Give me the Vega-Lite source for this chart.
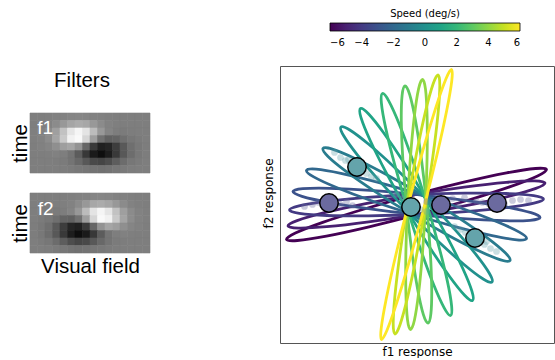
{
"$schema": "https://vega.github.io/schema/vega-lite/v6.json",
"autosize": {"type": "pad"},
"padding": {"left": 10, "top": 8, "right": 0, "bottom": 0},
"config": {"font": "DejaVu Sans", "view": {"stroke": null}},
"datasets": {
"fl1": [
{"c":0,"r":0,"v":0},{"c":1,"r":0,"v":0},{"c":2,"r":0,"v":0.01},{"c":3,"r":0,"v":0.02},{"c":4,"r":0,"v":0.03},{"c":5,"r":0,"v":0.05},{"c":6,"r":0,"v":0.06},{"c":7,"r":0,"v":0.05},{"c":8,"r":0,"v":0.03},{"c":9,"r":0,"v":0.02},{"c":10,"r":0,"v":0.01},{"c":11,"r":0,"v":0},{"c":12,"r":0,"v":0},{"c":13,"r":0,"v":0},{"c":14,"r":0,"v":0},{"c":15,"r":0,"v":0},
{"c":0,"r":1,"v":0},{"c":1,"r":1,"v":0.01},{"c":2,"r":1,"v":0.03},{"c":3,"r":1,"v":0.09},{"c":4,"r":1,"v":0.18},{"c":5,"r":1,"v":0.27},{"c":6,"r":1,"v":0.31},{"c":7,"r":1,"v":0.28},{"c":8,"r":1,"v":0.18},{"c":9,"r":1,"v":0.09},{"c":10,"r":1,"v":0.03},{"c":11,"r":1,"v":0.01},{"c":12,"r":1,"v":0},{"c":13,"r":1,"v":0},{"c":14,"r":1,"v":0},{"c":15,"r":1,"v":0},
{"c":0,"r":2,"v":0.01},{"c":1,"r":2,"v":0.03},{"c":2,"r":2,"v":0.09},{"c":3,"r":2,"v":0.23},{"c":4,"r":2,"v":0.46},{"c":5,"r":2,"v":0.69},{"c":6,"r":2,"v":0.79},{"c":7,"r":2,"v":0.68},{"c":8,"r":2,"v":0.42},{"c":9,"r":2,"v":0.18},{"c":10,"r":2,"v":0.04},{"c":11,"r":2,"v":-0.01},{"c":12,"r":2,"v":-0.02},{"c":13,"r":2,"v":-0.01},{"c":14,"r":2,"v":0},{"c":15,"r":2,"v":0},
{"c":0,"r":3,"v":0.01},{"c":1,"r":3,"v":0.03},{"c":2,"r":3,"v":0.1},{"c":3,"r":3,"v":0.26},{"c":4,"r":3,"v":0.51},{"c":5,"r":3,"v":0.76},{"c":6,"r":3,"v":0.81},{"c":7,"r":3,"v":0.59},{"c":8,"r":3,"v":0.22},{"c":9,"r":3,"v":-0.09},{"c":10,"r":3,"v":-0.21},{"c":11,"r":3,"v":-0.19},{"c":12,"r":3,"v":-0.11},{"c":13,"r":3,"v":-0.05},{"c":14,"r":3,"v":-0.02},{"c":15,"r":3,"v":0},
{"c":0,"r":4,"v":0},{"c":1,"r":4,"v":0.02},{"c":2,"r":4,"v":0.05},{"c":3,"r":4,"v":0.12},{"c":4,"r":4,"v":0.22},{"c":5,"r":4,"v":0.27},{"c":6,"r":4,"v":0.15},{"c":7,"r":4,"v":-0.17},{"c":8,"r":4,"v":-0.52},{"c":9,"r":4,"v":-0.73},{"c":10,"r":4,"v":-0.69},{"c":11,"r":4,"v":-0.49},{"c":12,"r":4,"v":-0.27},{"c":13,"r":4,"v":-0.11},{"c":14,"r":4,"v":-0.04},{"c":15,"r":4,"v":-0.01},
{"c":0,"r":5,"v":0},{"c":1,"r":5,"v":0},{"c":2,"r":5,"v":0.01},{"c":3,"r":5,"v":0.02},{"c":4,"r":5,"v":0},{"c":5,"r":5,"v":-0.07},{"c":6,"r":5,"v":-0.25},{"c":7,"r":5,"v":-0.53},{"c":8,"r":5,"v":-0.78},{"c":9,"r":5,"v":-0.88},{"c":10,"r":5,"v":-0.76},{"c":11,"r":5,"v":-0.52},{"c":12,"r":5,"v":-0.28},{"c":13,"r":5,"v":-0.12},{"c":14,"r":5,"v":-0.04},{"c":15,"r":5,"v":-0.01},
{"c":0,"r":6,"v":0},{"c":1,"r":6,"v":0},{"c":2,"r":6,"v":0},{"c":3,"r":6,"v":-0.01},{"c":4,"r":6,"v":-0.02},{"c":5,"r":6,"v":-0.07},{"c":6,"r":6,"v":-0.16},{"c":7,"r":6,"v":-0.28},{"c":8,"r":6,"v":-0.39},{"c":9,"r":6,"v":-0.42},{"c":10,"r":6,"v":-0.36},{"c":11,"r":6,"v":-0.24},{"c":12,"r":6,"v":-0.13},{"c":13,"r":6,"v":-0.05},{"c":14,"r":6,"v":-0.02},{"c":15,"r":6,"v":0},
{"c":0,"r":7,"v":0},{"c":1,"r":7,"v":0},{"c":2,"r":7,"v":0},{"c":3,"r":7,"v":0},{"c":4,"r":7,"v":-0.01},{"c":5,"r":7,"v":-0.02},{"c":6,"r":7,"v":-0.04},{"c":7,"r":7,"v":-0.06},{"c":8,"r":7,"v":-0.08},{"c":9,"r":7,"v":-0.09},{"c":10,"r":7,"v":-0.08},{"c":11,"r":7,"v":-0.05},{"c":12,"r":7,"v":-0.03},{"c":13,"r":7,"v":-0.01},{"c":14,"r":7,"v":0},{"c":15,"r":7,"v":0}
],
"fl2": [
{"c":0,"r":0,"v":0},{"c":1,"r":0,"v":0},{"c":2,"r":0,"v":0},{"c":3,"r":0,"v":0},{"c":4,"r":0,"v":0},{"c":5,"r":0,"v":0.01},{"c":6,"r":0,"v":0.02},{"c":7,"r":0,"v":0.03},{"c":8,"r":0,"v":0.05},{"c":9,"r":0,"v":0.06},{"c":10,"r":0,"v":0.05},{"c":11,"r":0,"v":0.03},{"c":12,"r":0,"v":0.02},{"c":13,"r":0,"v":0.01},{"c":14,"r":0,"v":0},{"c":15,"r":0,"v":0},
{"c":0,"r":1,"v":0},{"c":1,"r":1,"v":0},{"c":2,"r":1,"v":0},{"c":3,"r":1,"v":0},{"c":4,"r":1,"v":0.01},{"c":5,"r":1,"v":0.03},{"c":6,"r":1,"v":0.09},{"c":7,"r":1,"v":0.18},{"c":8,"r":1,"v":0.28},{"c":9,"r":1,"v":0.31},{"c":10,"r":1,"v":0.27},{"c":11,"r":1,"v":0.18},{"c":12,"r":1,"v":0.09},{"c":13,"r":1,"v":0.03},{"c":14,"r":1,"v":0.01},{"c":15,"r":1,"v":0},
{"c":0,"r":2,"v":0},{"c":1,"r":2,"v":0},{"c":2,"r":2,"v":-0.01},{"c":3,"r":2,"v":-0.02},{"c":4,"r":2,"v":-0.01},{"c":5,"r":2,"v":0.04},{"c":6,"r":2,"v":0.18},{"c":7,"r":2,"v":0.42},{"c":8,"r":2,"v":0.68},{"c":9,"r":2,"v":0.79},{"c":10,"r":2,"v":0.69},{"c":11,"r":2,"v":0.46},{"c":12,"r":2,"v":0.23},{"c":13,"r":2,"v":0.09},{"c":14,"r":2,"v":0.03},{"c":15,"r":2,"v":0.01},
{"c":0,"r":3,"v":0},{"c":1,"r":3,"v":-0.02},{"c":2,"r":3,"v":-0.05},{"c":3,"r":3,"v":-0.11},{"c":4,"r":3,"v":-0.19},{"c":5,"r":3,"v":-0.21},{"c":6,"r":3,"v":-0.09},{"c":7,"r":3,"v":0.22},{"c":8,"r":3,"v":0.59},{"c":9,"r":3,"v":0.81},{"c":10,"r":3,"v":0.76},{"c":11,"r":3,"v":0.51},{"c":12,"r":3,"v":0.26},{"c":13,"r":3,"v":0.1},{"c":14,"r":3,"v":0.03},{"c":15,"r":3,"v":0.01},
{"c":0,"r":4,"v":-0.01},{"c":1,"r":4,"v":-0.04},{"c":2,"r":4,"v":-0.11},{"c":3,"r":4,"v":-0.27},{"c":4,"r":4,"v":-0.49},{"c":5,"r":4,"v":-0.69},{"c":6,"r":4,"v":-0.73},{"c":7,"r":4,"v":-0.52},{"c":8,"r":4,"v":-0.17},{"c":9,"r":4,"v":0.15},{"c":10,"r":4,"v":0.27},{"c":11,"r":4,"v":0.22},{"c":12,"r":4,"v":0.12},{"c":13,"r":4,"v":0.05},{"c":14,"r":4,"v":0.02},{"c":15,"r":4,"v":0},
{"c":0,"r":5,"v":-0.01},{"c":1,"r":5,"v":-0.04},{"c":2,"r":5,"v":-0.12},{"c":3,"r":5,"v":-0.28},{"c":4,"r":5,"v":-0.52},{"c":5,"r":5,"v":-0.76},{"c":6,"r":5,"v":-0.88},{"c":7,"r":5,"v":-0.78},{"c":8,"r":5,"v":-0.53},{"c":9,"r":5,"v":-0.25},{"c":10,"r":5,"v":-0.07},{"c":11,"r":5,"v":0},{"c":12,"r":5,"v":0.02},{"c":13,"r":5,"v":0.01},{"c":14,"r":5,"v":0},{"c":15,"r":5,"v":0},
{"c":0,"r":6,"v":0},{"c":1,"r":6,"v":-0.02},{"c":2,"r":6,"v":-0.05},{"c":3,"r":6,"v":-0.13},{"c":4,"r":6,"v":-0.24},{"c":5,"r":6,"v":-0.36},{"c":6,"r":6,"v":-0.42},{"c":7,"r":6,"v":-0.39},{"c":8,"r":6,"v":-0.28},{"c":9,"r":6,"v":-0.16},{"c":10,"r":6,"v":-0.07},{"c":11,"r":6,"v":-0.02},{"c":12,"r":6,"v":-0.01},{"c":13,"r":6,"v":0},{"c":14,"r":6,"v":0},{"c":15,"r":6,"v":0},
{"c":0,"r":7,"v":0},{"c":1,"r":7,"v":0},{"c":2,"r":7,"v":-0.01},{"c":3,"r":7,"v":-0.03},{"c":4,"r":7,"v":-0.05},{"c":5,"r":7,"v":-0.08},{"c":6,"r":7,"v":-0.09},{"c":7,"r":7,"v":-0.08},{"c":8,"r":7,"v":-0.06},{"c":9,"r":7,"v":-0.04},{"c":10,"r":7,"v":-0.02},{"c":11,"r":7,"v":-0.01},{"c":12,"r":7,"v":0},{"c":13,"r":7,"v":0},{"c":14,"r":7,"v":0},{"c":15,"r":7,"v":0}
],
"ell": [
{"s":-6,"k":0,"x":130,"y":35},{"s":-6,"k":1,"x":119.1,"y":36},{"s":-6,"k":2,"x":90.1,"y":31.6},{"s":-6,"k":3,"x":47.4,"y":22.3},{"s":-6,"k":4,"x":-2.6,"y":9.7},{"s":-6,"k":5,"x":-52.2,"y":-4.5},{"s":-6,"k":6,"x":-93.8,"y":-17.9},{"s":-6,"k":7,"x":-121.1,"y":-28.6},{"s":-6,"k":8,"x":-130,"y":-35},{"s":-6,"k":9,"x":-119.1,"y":-36},{"s":-6,"k":10,"x":-90.1,"y":-31.6},{"s":-6,"k":11,"x":-47.4,"y":-22.3},{"s":-6,"k":12,"x":2.6,"y":-9.7},{"s":-6,"k":13,"x":52.2,"y":4.5},{"s":-6,"k":14,"x":93.8,"y":17.9},{"s":-6,"k":15,"x":121.1,"y":28.6},
{"s":-5,"k":0,"x":128.5,"y":21.5},{"s":-5,"k":1,"x":118.1,"y":23.6},{"s":-5,"k":2,"x":89.7,"y":22.2},{"s":-5,"k":3,"x":47.7,"y":17.3},{"s":-5,"k":4,"x":-1.7,"y":9.9},{"s":-5,"k":5,"x":-50.7,"y":0.9},{"s":-5,"k":6,"x":-92,"y":-8.2},{"s":-5,"k":7,"x":-119.4,"y":-16.1},{"s":-5,"k":8,"x":-128.5,"y":-21.5},{"s":-5,"k":9,"x":-118.1,"y":-23.6},{"s":-5,"k":10,"x":-89.7,"y":-22.2},{"s":-5,"k":11,"x":-47.7,"y":-17.3},{"s":-5,"k":12,"x":1.7,"y":-9.9},{"s":-5,"k":13,"x":50.7,"y":-0.9},{"s":-5,"k":14,"x":92,"y":8.2},{"s":-5,"k":15,"x":119.4,"y":16.1},
{"s":-4,"k":0,"x":127,"y":5.5},{"s":-4,"k":1,"x":117.2,"y":8.9},{"s":-4,"k":2,"x":89.5,"y":11},{"s":-4,"k":3,"x":48.2,"y":11.3},{"s":-4,"k":4,"x":-0.4,"y":10},{"s":-4,"k":5,"x":-49,"y":7.1},{"s":-4,"k":6,"x":-90.1,"y":3.2},{"s":-4,"k":7,"x":-117.5,"y":-1.3},{"s":-4,"k":8,"x":-127,"y":-5.5},{"s":-4,"k":9,"x":-117.2,"y":-8.9},{"s":-4,"k":10,"x":-89.5,"y":-11},{"s":-4,"k":11,"x":-48.2,"y":-11.3},{"s":-4,"k":12,"x":0.4,"y":-10},{"s":-4,"k":13,"x":49,"y":-7.1},{"s":-4,"k":14,"x":90.1,"y":-3.2},{"s":-4,"k":15,"x":117.5,"y":1.3},
{"s":-3,"k":0,"x":123.5,"y":-13},{"s":-3,"k":1,"x":114.5,"y":-8.2},{"s":-3,"k":2,"x":88.1,"y":-2.2},{"s":-3,"k":3,"x":48.2,"y":4.2},{"s":-3,"k":4,"x":1,"y":9.9},{"s":-3,"k":5,"x":-46.3,"y":14.2},{"s":-3,"k":6,"x":-86.6,"y":16.2},{"s":-3,"k":7,"x":-113.7,"y":15.8},{"s":-3,"k":8,"x":-123.5,"y":13},{"s":-3,"k":9,"x":-114.5,"y":8.2},{"s":-3,"k":10,"x":-88.1,"y":2.2},{"s":-3,"k":11,"x":-48.2,"y":-4.2},{"s":-3,"k":12,"x":-1,"y":-9.9},{"s":-3,"k":13,"x":46.3,"y":-14.2},{"s":-3,"k":14,"x":86.6,"y":-16.2},{"s":-3,"k":15,"x":113.7,"y":-15.8},
{"s":-2,"k":0,"x":110,"y":-34},{"s":-2,"k":1,"x":102.8,"y":-27.6},{"s":-2,"k":2,"x":80,"y":-17},{"s":-2,"k":3,"x":45,"y":-3.7},{"s":-2,"k":4,"x":3.1,"y":10},{"s":-2,"k":5,"x":-39.2,"y":22.3},{"s":-2,"k":6,"x":-75.6,"y":31.1},{"s":-2,"k":7,"x":-100.4,"y":35.3},{"s":-2,"k":8,"x":-110,"y":34},{"s":-2,"k":9,"x":-102.8,"y":27.6},{"s":-2,"k":10,"x":-80,"y":17},{"s":-2,"k":11,"x":-45,"y":3.7},{"s":-2,"k":12,"x":-3.1,"y":-10},{"s":-2,"k":13,"x":39.2,"y":-22.3},{"s":-2,"k":14,"x":75.6,"y":-31.1},{"s":-2,"k":15,"x":100.4,"y":-35.3},
{"s":-1,"k":0,"x":93.5,"y":-56},{"s":-1,"k":1,"x":88.5,"y":-48.1},{"s":-1,"k":2,"x":70.1,"y":-32.9},{"s":-1,"k":3,"x":41,"y":-12.7},{"s":-1,"k":4,"x":5.7,"y":9.4},{"s":-1,"k":5,"x":-30.6,"y":30.2},{"s":-1,"k":6,"x":-62.1,"y":46.3},{"s":-1,"k":7,"x":-84.2,"y":55.4},{"s":-1,"k":8,"x":-93.5,"y":56},{"s":-1,"k":9,"x":-88.5,"y":48.1},{"s":-1,"k":10,"x":-70.1,"y":32.9},{"s":-1,"k":11,"x":-41,"y":12.7},{"s":-1,"k":12,"x":-5.7,"y":-9.4},{"s":-1,"k":13,"x":30.6,"y":-30.2},{"s":-1,"k":14,"x":62.1,"y":-46.3},{"s":-1,"k":15,"x":84.2,"y":-55.4},
{"s":0,"k":0,"x":75.5,"y":-77.5},{"s":0,"k":1,"x":72.8,"y":-68.7},{"s":0,"k":2,"x":59,"y":-49.4},{"s":0,"k":3,"x":36.2,"y":-22.6},{"s":0,"k":4,"x":7.9,"y":7.7},{"s":0,"k":5,"x":-21.6,"y":36.8},{"s":0,"k":6,"x":-47.8,"y":60.2},{"s":0,"k":7,"x":-66.7,"y":74.5},{"s":0,"k":8,"x":-75.5,"y":77.5},{"s":0,"k":9,"x":-72.8,"y":68.7},{"s":0,"k":10,"x":-59,"y":49.4},{"s":0,"k":11,"x":-36.2,"y":22.6},{"s":0,"k":12,"x":-7.9,"y":-7.7},{"s":0,"k":13,"x":21.6,"y":-36.8},{"s":0,"k":14,"x":47.8,"y":-60.2},{"s":0,"k":15,"x":66.7,"y":-74.5},
{"s":1,"k":0,"x":56,"y":-96},{"s":1,"k":1,"x":55.4,"y":-86.6},{"s":1,"k":2,"x":46.3,"y":-64},{"s":1,"k":3,"x":30.2,"y":-31.6},{"s":1,"k":4,"x":9.5,"y":5.6},{"s":1,"k":5,"x":-12.6,"y":41.9},{"s":1,"k":6,"x":-32.9,"y":71.8},{"s":1,"k":7,"x":-48.1,"y":90.8},{"s":1,"k":8,"x":-56,"y":96},{"s":1,"k":9,"x":-55.4,"y":86.6},{"s":1,"k":10,"x":-46.3,"y":64},{"s":1,"k":11,"x":-30.2,"y":31.6},{"s":1,"k":12,"x":-9.5,"y":-5.6},{"s":1,"k":13,"x":12.6,"y":-41.9},{"s":1,"k":14,"x":32.9,"y":-71.8},{"s":1,"k":15,"x":48.1,"y":-90.8},
{"s":2,"k":0,"x":34,"y":-111},{"s":2,"k":1,"x":35.1,"y":-101.4},{"s":2,"k":2,"x":30.8,"y":-76.4},{"s":2,"k":3,"x":21.8,"y":-39.8},{"s":2,"k":4,"x":9.6,"y":2.9},{"s":2,"k":5,"x":-4.2,"y":45.2},{"s":2,"k":6,"x":-17.3,"y":80.6},{"s":2,"k":7,"x":-27.8,"y":103.7},{"s":2,"k":8,"x":-34,"y":111},{"s":2,"k":9,"x":-35.1,"y":101.4},{"s":2,"k":10,"x":-30.8,"y":76.4},{"s":2,"k":11,"x":-21.8,"y":39.8},{"s":2,"k":12,"x":-9.6,"y":-2.9},{"s":2,"k":13,"x":4.2,"y":-45.2},{"s":2,"k":14,"x":17.3,"y":-80.6},{"s":2,"k":15,"x":27.8,"y":-103.7},
{"s":3,"k":0,"x":11.5,"y":-118.5},{"s":3,"k":1,"x":14.4,"y":-109.1},{"s":3,"k":2,"x":15.2,"y":-83.1},{"s":3,"k":3,"x":13.6,"y":-44.5},{"s":3,"k":4,"x":10,"y":1},{"s":3,"k":5,"x":4.8,"y":46.3},{"s":3,"k":6,"x":-1.1,"y":84.5},{"s":3,"k":7,"x":-6.8,"y":109.9},{"s":3,"k":8,"x":-11.5,"y":118.5},{"s":3,"k":9,"x":-14.4,"y":109.1},{"s":3,"k":10,"x":-15.2,"y":83.1},{"s":3,"k":11,"x":-13.6,"y":44.5},{"s":3,"k":12,"x":-10,"y":-1},{"s":3,"k":13,"x":-4.8,"y":-46.3},{"s":3,"k":14,"x":1.1,"y":-84.5},{"s":3,"k":15,"x":6.8,"y":-109.9},
{"s":4,"k":0,"x":-6,"y":-125},{"s":4,"k":1,"x":-2.1,"y":-115.7},{"s":4,"k":2,"x":2.1,"y":-88.7},{"s":4,"k":3,"x":6,"y":-48.2},{"s":4,"k":4,"x":9,"y":-0.4},{"s":4,"k":5,"x":10.6,"y":47.4},{"s":4,"k":6,"x":10.6,"y":88.1},{"s":4,"k":7,"x":9,"y":115.3},{"s":4,"k":8,"x":6,"y":125},{"s":4,"k":9,"x":2.1,"y":115.7},{"s":4,"k":10,"x":-2.1,"y":88.7},{"s":4,"k":11,"x":-6,"y":48.2},{"s":4,"k":12,"x":-9,"y":0.4},{"s":4,"k":13,"x":-10.6,"y":-47.4},{"s":4,"k":14,"x":-10.6,"y":-88.1},{"s":4,"k":15,"x":-9,"y":-115.3},
{"s":5,"k":0,"x":-21.5,"y":-129.5},{"s":5,"k":1,"x":-16.5,"y":-120.2},{"s":5,"k":2,"x":-8.9,"y":-92.6},{"s":5,"k":3,"x":0,"y":-50.9},{"s":5,"k":4,"x":8.9,"y":-1.5},{"s":5,"k":5,"x":16.4,"y":48.2},{"s":5,"k":6,"x":21.5,"y":90.5},{"s":5,"k":7,"x":23.3,"y":119.1},{"s":5,"k":8,"x":21.5,"y":129.5},{"s":5,"k":9,"x":16.5,"y":120.2},{"s":5,"k":10,"x":8.9,"y":92.6},{"s":5,"k":11,"x":0,"y":50.9},{"s":5,"k":12,"x":-8.9,"y":1.5},{"s":5,"k":13,"x":-16.4,"y":-48.2},{"s":5,"k":14,"x":-21.5,"y":-90.5},{"s":5,"k":15,"x":-23.3,"y":-119.1},
{"s":6,"k":0,"x":-35,"y":-135},{"s":6,"k":1,"x":-29.4,"y":-125.5},{"s":6,"k":2,"x":-19.3,"y":-96.9},{"s":6,"k":3,"x":-6.2,"y":-53.5},{"s":6,"k":4,"x":7.7,"y":-2},{"s":6,"k":5,"x":20.5,"y":49.8},{"s":6,"k":6,"x":30.2,"y":94},{"s":6,"k":7,"x":35.3,"y":123.9},{"s":6,"k":8,"x":35,"y":135},{"s":6,"k":9,"x":29.4,"y":125.5},{"s":6,"k":10,"x":19.3,"y":96.9},{"s":6,"k":11,"x":6.2,"y":53.5},{"s":6,"k":12,"x":-7.7,"y":2},{"s":6,"k":13,"x":-20.5,"y":-49.8},{"s":6,"k":14,"x":-30.2,"y":-94},{"s":6,"k":15,"x":-35.3,"y":-123.9}
],
"smp": [
{"g":"t","x":-82,"y":52},{"g":"t","x":-76,"y":47},{"g":"t","x":-71,"y":44},{"g":"t","x":-66,"y":41},{"g":"t","x":-68,"y":45},{"g":"t","x":-55,"y":34},{"g":"t","x":-50,"y":31},{"g":"t","x":-45,"y":28},{"g":"t","x":-40,"y":26},{"g":"t","x":-20,"y":10},{"g":"t","x":-14,"y":6},{"g":"t","x":-9,"y":2},{"g":"t","x":0,"y":-3},{"g":"t","x":4,"y":-5},{"g":"t","x":10,"y":-7},{"g":"t","x":38,"y":-22},{"g":"t","x":44,"y":-25},{"g":"t","x":49,"y":-28},{"g":"t","x":54,"y":-32},{"g":"t","x":63,"y":-36},{"g":"t","x":68,"y":-40},{"g":"t","x":70,"y":-37},{"g":"t","x":74,"y":-44},{"g":"t","x":80,"y":-47},
{"g":"p","x":-112,"y":-2},{"g":"p","x":-104,"y":0},{"g":"p","x":-98,"y":2},{"g":"p","x":-93,"y":-1},{"g":"p","x":-82,"y":1},{"g":"p","x":-76,"y":0},{"g":"p","x":-70,"y":3},{"g":"p","x":-64,"y":-1},{"g":"p","x":10,"y":3},{"g":"p","x":16,"y":0},{"g":"p","x":20,"y":-2},{"g":"p","x":30,"y":1},{"g":"p","x":36,"y":6},{"g":"p","x":42,"y":-1},{"g":"p","x":48,"y":7},{"g":"p","x":60,"y":3},{"g":"p","x":66,"y":2},{"g":"p","x":72,"y":1},{"g":"p","x":88,"y":1},{"g":"p","x":96,"y":4},{"g":"p","x":104,"y":5},{"g":"p","x":112,"y":4}
],
"mns": [
{"g":"p","x":-87.5,"y":1.5},{"g":"p","x":24.5,"y":-0.5},{"g":"p","x":80.5,"y":1.5},
{"g":"t","x":-59.5,"y":37.5},{"g":"t","x":-5.5,"y":-2.5},{"g":"t","x":58.5,"y":-33.5}
]
},
"hconcat": [
{
"vconcat": [
{
"width": 120, "height": 27,
"data": {"values": [{"t": "Filters"}]},
"mark": {"type": "text", "font": "Liberation Sans", "fontSize": 20.5, "align": "center", "baseline": "middle", "dx": -8, "dy": 1, "color": "black"},
"encoding": {"text": {"field": "t"}}
},
{
"width": 120, "height": 60,
"layer": [
{
"data": {"name": "fl1"},
"mark": {"type": "rect", "strokeWidth": 0.6},
"encoding": {
"x": {"field": "c", "type": "ordinal", "scale": {"paddingInner": 0, "paddingOuter": 0}, "axis": null},
"y": {"field": "r", "type": "ordinal", "scale": {"paddingInner": 0, "paddingOuter": 0}, "axis": {"title": "time", "labels": false, "ticks": false, "domain": false, "titleFont": "Liberation Sans", "titleFontSize": 20.5, "titleFontWeight": "normal", "titleColor": "black", "titlePadding": 0}},
"color": {"field": "v", "type": "quantitative", "scale": {"domain": [-0.95, 0.85], "range": ["#000000", "#ffffff"]}, "legend": null},
"stroke": {"field": "v", "type": "quantitative", "scale": {"domain": [-0.95, 0.85], "range": ["#000000", "#ffffff"]}, "legend": null}
}
},
{
"data": {"values": [{"t": "f1"}]},
"mark": {"type": "text", "font": "Liberation Sans", "fontSize": 19, "color": "white", "align": "left", "baseline": "alphabetic", "dx": 3.5, "dy": 17.5},
"encoding": {"text": {"field": "t"}, "x": {"datum": 0, "type": "ordinal"}, "y": {"datum": 0, "type": "ordinal"}}
}
]
},
{
"width": 120, "height": 60,
"layer": [
{
"data": {"name": "fl2"},
"mark": {"type": "rect", "strokeWidth": 0.6},
"encoding": {
"x": {"field": "c", "type": "ordinal", "scale": {"paddingInner": 0, "paddingOuter": 0}, "axis": {"title": "Visual field", "labels": false, "ticks": false, "domain": false, "titleFont": "Liberation Sans", "titleFontSize": 20.5, "titleFontWeight": "normal", "titleColor": "black", "titlePadding": 3}},
"y": {"field": "r", "type": "ordinal", "scale": {"paddingInner": 0, "paddingOuter": 0}, "axis": {"title": "time", "labels": false, "ticks": false, "domain": false, "titleFont": "Liberation Sans", "titleFontSize": 20.5, "titleFontWeight": "normal", "titleColor": "black", "titlePadding": 0}},
"color": {"field": "v", "type": "quantitative", "scale": {"domain": [-0.95, 0.85], "range": ["#000000", "#ffffff"]}, "legend": null},
"stroke": {"field": "v", "type": "quantitative", "scale": {"domain": [-0.95, 0.85], "range": ["#000000", "#ffffff"]}, "legend": null}
}
},
{
"data": {"values": [{"t": "f2"}]},
"mark": {"type": "text", "font": "Liberation Sans", "fontSize": 19, "color": "white", "align": "left", "baseline": "alphabetic", "dx": 4, "dy": 18},
"encoding": {"text": {"field": "t"}, "x": {"datum": 0, "type": "ordinal"}, "y": {"datum": 0, "type": "ordinal"}}
}
]
}
],
"spacing": 20,
"bounds": "flush"
},
{
"width": 274, "height": 277,
"view": {"stroke": "#555555", "strokeWidth": 1},
"encoding": {
"x": {"field": "x", "type": "quantitative", "scale": {"domain": [-136.5, 137.5], "nice": false, "zero": false}, "axis": {"title": "f1 response", "labels": false, "ticks": false, "domain": false, "grid": false, "titleFontSize": 12, "titleFontWeight": "normal", "titleColor": "black", "titlePadding": 3}},
"y": {"field": "y", "type": "quantitative", "scale": {"domain": [-138.5, 138.5], "nice": false, "zero": false}, "axis": {"title": "f2 response", "labels": false, "ticks": false, "domain": false, "grid": false, "titleFontSize": 12, "titleFontWeight": "normal", "titleColor": "black", "titleBaseline": "bottom", "titleAngle": -90, "titleX": -5, "titleY": 127}}
},
"layer": [
{
"data": {"name": "ell"},
"mark": {"type": "line", "interpolate": "cardinal-closed", "strokeWidth": 2.8},
"encoding": {
"color": {"field": "s", "type": "quantitative", "scale": {"scheme": "viridis", "domain": [-6, 6]},
"legend": {"title": "Speed (deg/s)", "orient": "none", "legendX": 50, "legendY": -57, "direction": "horizontal", "gradientLength": 190, "gradientThickness": 8, "gradientStrokeColor": "black", "gradientStrokeWidth": 0.8, "values": [-6, -4, -2, 0, 2, 4, 6], "titleAnchor": "middle", "titleFontSize": 10, "titleFontWeight": "normal", "titleColor": "black", "titlePadding": 4, "labelFontSize": 10, "labelColor": "black", "labelOffset": 7}},
"detail": {"field": "s", "type": "nominal"},
"order": {"field": "k", "type": "quantitative"}
}
},
{
"data": {"name": "smp"},
"mark": {"type": "circle", "size": 45, "opacity": 0.35},
"encoding": {"color": {"field": "g", "type": "nominal", "scale": {"domain": ["p", "t"], "range": ["#6b6a9f", "#64a4ab"]}, "legend": null}}
},
{
"data": {"name": "mns"},
"mark": {"type": "circle", "size": 340, "opacity": 1, "stroke": "black", "strokeWidth": 1.5},
"encoding": {"color": {"field": "g", "type": "nominal", "scale": {"domain": ["p", "t"], "range": ["#6b6a9f", "#64a4ab"]}, "legend": null}}
}
],
"resolve": {"scale": {"color": "independent"}}
}
],
"spacing": 250,
"bounds": "flush"
}
